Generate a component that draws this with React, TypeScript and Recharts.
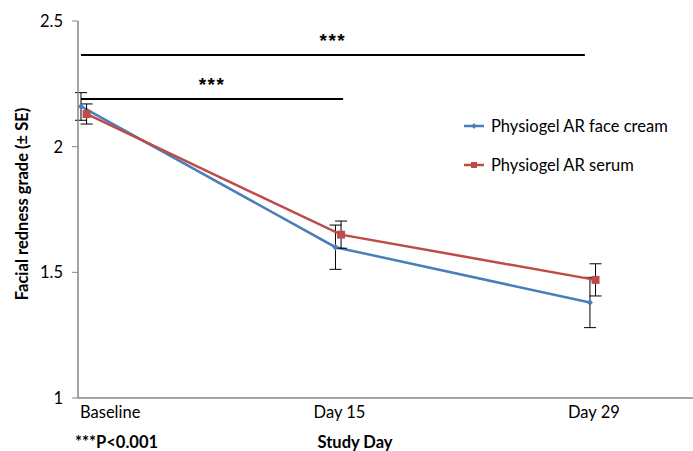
import React from "react";
import { LineChart, Line, XAxis, YAxis, ErrorBar, Legend, ReferenceLine } from "recharts";

const categories = ["Baseline", "Day 15", "Day 29"];
const creamMeans = [2.16, 1.6, 1.38];
const creamSE = [0.055, 0.088, 0.1];
const serumMeans = [2.13, 1.65, 1.47];
const serumSE = [0.04, 0.054, 0.064];

// significance bars: [from category, to category, level, label]
const sigFrom = [0, 0];
const sigTo = [1.98, 1.03];
const sigLevel = [2.365, 2.19];
const sigLabel = ["***", "***"];

const yTicks = [1, 1.5, 2, 2.5];

const FONT = "Lato, 'Open Sans', sans-serif";
const FS = 16.5;
const BLUE = "#4A7EBB";
const RED = "#BE4B48";
const AXIS = "#868686";
const SERUM_OFFSET = 0.022;

const creamData = categories.map((c, i) => ({ x: i, name: c, y: creamMeans[i], err: creamSE[i] }));
const serumData = categories.map((c, i) => ({ x: i + SERUM_OFFSET, name: c, y: serumMeans[i], err: serumSE[i] }));

const Diamond = (props: any) => {
  const { cx, cy } = props;
  if (cx == null || cy == null) return null;
  return <path d={`M${cx},${cy - 3.5}L${cx + 3},${cy}L${cx},${cy + 3.5}L${cx - 3},${cy}Z`} fill={BLUE} />;
};

const Square = (props: any) => {
  const { cx, cy } = props;
  if (cx == null || cy == null) return null;
  return <rect x={cx - 4} y={cy - 4} width={8} height={8} fill={RED} />;
};

const XTick = (props: any) => {
  const { x, y, payload, index } = props;
  const first = index === 0;
  return (
    <text
      x={first ? x - 1 : x + 4}
      y={y}
      dy="0.71em"
      textAnchor={first ? "start" : "middle"}
      fontFamily={FONT}
      fontSize={FS}
      fill="#000"
    >
      {categories[payload.value]}
    </text>
  );
};

const XTitle = () => (
  <g fontFamily={FONT} fontSize={FS} fontWeight="bold" fill="#000">
    <text x={355} y={448} textAnchor="middle">Study Day</text>
    <text x={75} y={448} textAnchor="start">***P&lt;0.001</text>
  </g>
);

const YTitle = () => (
  <text
    x={22}
    y={204}
    transform="rotate(-90 22 204)"
    textAnchor="middle"
    dominantBaseline="central"
    fontFamily={FONT}
    fontSize={FS}
    fontWeight="bold"
    fill="#000"
  >
    Facial redness grade (± SE)
  </text>
);

const LegendBox = () => (
  <div style={{ fontFamily: FONT, fontSize: FS, color: "#000" }}>
    {[
      { name: "Physiogel AR face cream", color: BLUE, square: false },
      { name: "Physiogel AR serum", color: RED, square: true },
    ].map((item, i) => (
      <div key={item.name} style={{ display: "flex", alignItems: "center", height: 20, marginBottom: i === 0 ? 19 : 0 }}>
        <svg width={24} height={12} style={{ marginRight: 5 }}>
          <line x1={2} y1={6} x2={22} y2={6} stroke={item.color} strokeWidth={2.5} />
          {item.square ? (
            <rect x={9} y={3} width={6} height={6} fill={item.color} />
          ) : (
            <path d="M12,3L14.5,6L12,9L9.5,6Z" fill={item.color} />
          )}
        </svg>
        <span>{item.name}</span>
      </div>
    ))}
  </div>
);

export default function App() {
  return (
    <div style={{ position: "absolute", left: 0, top: 0, width: 693, height: 451, background: "#fff" }}>
      <LineChart width={693} height={451} margin={{ top: 21, right: 0, bottom: 0, left: 0 }}>
        <XAxis
          type="number"
          dataKey="x"
          domain={[-0.0118, 2.405]}
          allowDataOverflow
          ticks={[0, 1, 2]}
          tick={<XTick />}
          tickLine={false}
          axisLine={{ stroke: AXIS, strokeWidth: 1.5 }}
          height={53}
          label={<XTitle />}
        />
        <YAxis
          type="number"
          domain={[1, 2.5]}
          allowDataOverflow
          ticks={yTicks}
          width={78}
          tickSize={6}
          tickMargin={9}
          tickLine={{ stroke: AXIS }}
          axisLine={{ stroke: AXIS, strokeWidth: 1.5 }}
          tick={{ fontFamily: FONT, fontSize: FS, fill: "#000" }}
          label={<YTitle />}
        />
        {sigLevel.map((lvl, i) => (
          <ReferenceLine
            key={i}
            segment={[
              { x: sigFrom[i], y: lvl },
              { x: sigTo[i], y: lvl },
            ]}
            stroke="#000"
            strokeWidth={2}
            label={{
              value: sigLabel[i],
              position: "top",
              offset: 8,
              fontFamily: "Arial, sans-serif",
              fontSize: 19,
              fontWeight: "bold",
              letterSpacing: 1.5,
              fill: "#000",
            }}
          />
        ))}
        <Line
          data={creamData}
          dataKey="y"
          name="Physiogel AR face cream"
          stroke={BLUE}
          strokeWidth={2.5}
          dot={<Diamond />}
          activeDot={false}
          isAnimationActive={false}
        >
          <ErrorBar dataKey="err" direction="y" width={6} stroke="#000" strokeWidth={1} />
        </Line>
        <Line
          data={serumData}
          dataKey="y"
          name="Physiogel AR serum"
          stroke={RED}
          strokeWidth={2.5}
          dot={<Square />}
          activeDot={false}
          isAnimationActive={false}
        >
          <ErrorBar dataKey="err" direction="y" width={6} stroke="#000" strokeWidth={1} />
        </Line>
        <Legend
          layout="vertical"
          align="center"
          verticalAlign="middle"
          content={<LegendBox />}
          wrapperStyle={{ position: "absolute", left: 462, top: 116, width: 230, bottom: "auto", right: "auto" }}
        />
      </LineChart>
    </div>
  );
}
